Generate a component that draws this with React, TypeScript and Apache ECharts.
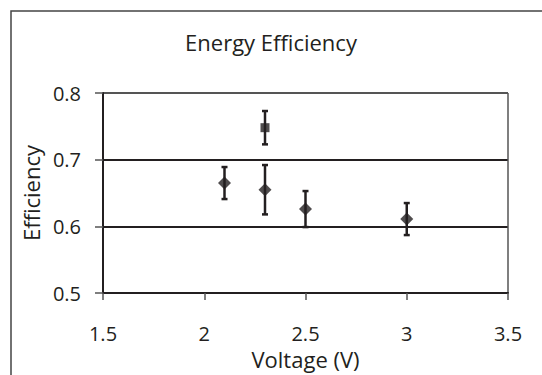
import React, { useEffect, useRef } from "react";
import * as echarts from "echarts";

const voltageDiamond = [2.1, 2.3, 2.5, 3.0];
const efficiencyDiamond = [0.665, 0.655, 0.626, 0.611];
const errorDiamond = [0.024, 0.037, 0.027, 0.024];

const voltageSquare = [2.3];
const efficiencySquare = [0.748];
const errorSquare = [0.025];

const xTicks = [1.5, 2, 2.5, 3, 3.5];
const yTicks = [0.5, 0.6, 0.7, 0.8];

const INK = "#231f20";
const FONT = "Open Sans";

export default function App() {
  const ref = useRef<HTMLDivElement>(null);
  useEffect(() => {
    if (!ref.current) return;
    const chart = echarts.init(ref.current, null, { renderer: "svg" });
    const diamonds = voltageDiamond.map((v, i) => [v, efficiencyDiamond[i]]);
    const squares = voltageSquare.map((v, i) => [v, efficiencySquare[i]]);
    const errs = [
      ...voltageDiamond.map((v, i) => [v, efficiencyDiamond[i] - errorDiamond[i], efficiencyDiamond[i] + errorDiamond[i]]),
      ...voltageSquare.map((v, i) => [v, efficiencySquare[i] - errorSquare[i], efficiencySquare[i] + errorSquare[i]]),
    ];
    chart.setOption({
      animation: false,
      backgroundColor: "#fff",
      title: {
        text: "Energy Efficiency",
        left: "center",
        top: 26,
        padding: [5, 5, 5, 15],
        textStyle: { fontFamily: FONT, fontSize: 22, fontWeight: "normal", color: INK },
      },
      graphic: [
        {
          type: "rect",
          shape: { x: 11, y: 11, width: 560, height: 400 },
          style: { fill: "none", stroke: "#444", lineWidth: 1.5 },
          silent: true,
        },
      ],
      grid: { left: 103, right: 34, top: 93, bottom: 81 },
      xAxis: {
        type: "value",
        min: xTicks[0],
        max: xTicks[xTicks.length - 1],
        interval: 0.5,
        name: "Voltage (V)",
        nameLocation: "middle",
        nameGap: 54,
        nameTextStyle: { fontFamily: FONT, fontSize: 22, color: INK },
        axisLine: { show: true, onZero: false, lineStyle: { color: INK, width: 2 } },
        axisTick: { show: true, length: 7, lineStyle: { color: "#555", width: 1.5 } },
        axisLabel: { fontFamily: FONT, fontSize: 20, color: INK, margin: 30 },
        splitLine: {
          show: true,
          lineStyle: { color: ["transparent", "transparent", "transparent", "transparent", "#555"], width: 1.5 },
        },
      },
      yAxis: {
        type: "value",
        min: yTicks[0],
        max: yTicks[yTicks.length - 1],
        interval: 0.1,
        name: "Efficiency",
        nameLocation: "middle",
        nameGap: 60,
        nameTextStyle: { fontFamily: FONT, fontSize: 22, color: INK },
        axisLine: { show: true, onZero: false, lineStyle: { color: INK, width: 2 } },
        axisTick: { show: true, length: 8, lineStyle: { color: "#555", width: 1.5 } },
        axisLabel: { fontFamily: FONT, fontSize: 20, color: INK, margin: 22, formatter: (v: number) => v.toFixed(1) },
        splitLine: {
          show: true,
          lineStyle: { color: [INK, INK, INK, "#555"], width: 2 },
        },
      },
      series: [
        {
          type: "custom",
          data: errs,
          z: 3,
          renderItem: (params: any, api: any) => {
            const x = api.value(0);
            const lo = api.coord([x, api.value(1)]);
            const hi = api.coord([x, api.value(2)]);
            const cap = 3;
            const style = { stroke: INK, lineWidth: 2.5 };
            return {
              type: "group",
              children: [
                { type: "line", shape: { x1: lo[0], y1: lo[1], x2: hi[0], y2: hi[1] }, style },
                { type: "line", shape: { x1: lo[0] - cap, y1: lo[1], x2: lo[0] + cap, y2: lo[1] }, style },
                { type: "line", shape: { x1: hi[0] - cap, y1: hi[1], x2: hi[0] + cap, y2: hi[1] }, style },
              ],
            };
          },
        },
        {
          type: "scatter",
          data: diamonds,
          symbol: "diamond",
          symbolSize: 13,
          z: 4,
          itemStyle: { color: INK },
        },
        {
          type: "scatter",
          data: squares,
          symbol: "rect",
          symbolSize: 9,
          z: 4,
          itemStyle: { color: INK },
        },
      ],
    });
    return () => chart.dispose();
  }, []);
  return <div ref={ref} style={{ position: "fixed", left: 0, top: 0, width: 542, height: 375 }} />;
}
